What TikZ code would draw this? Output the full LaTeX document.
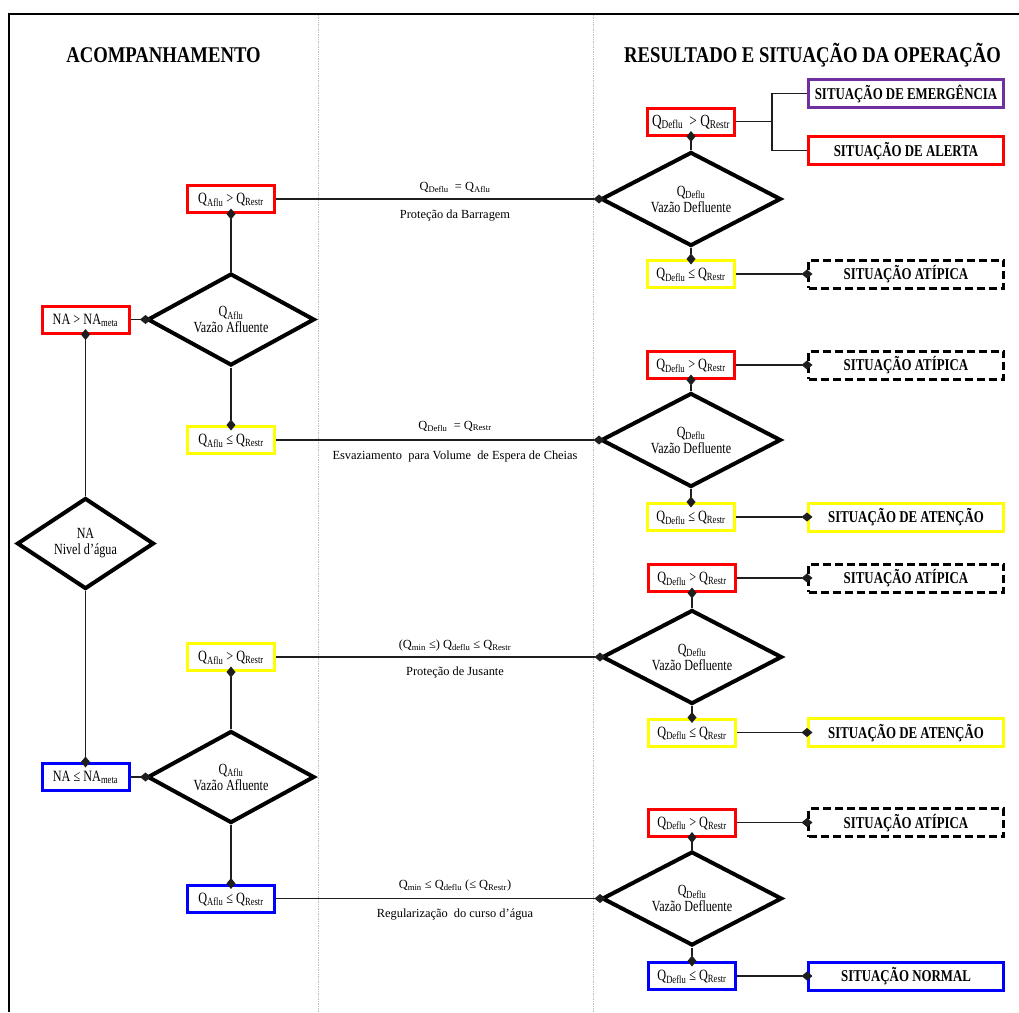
\documentclass[tikz,border=0pt]{standalone}
\usepackage{fontspec}
\setmainfont{Liberation Serif}
\newfontfamily\cf[FakeStretch=0.78]{Liberation Serif}
\newfontfamily\hf[FakeStretch=0.83]{Liberation Serif}
\usetikzlibrary{shapes.geometric,arrows.meta}
\definecolor{cred}{RGB}{255,0,0}
\definecolor{cyel}{RGB}{255,255,0}
\definecolor{cblu}{RGB}{0,0,255}
\definecolor{cpur}{RGB}{112,48,160}
\definecolor{cline}{RGB}{30,30,30}
\begin{document}
\begin{tikzpicture}[x=1pt,y=-1pt,
 qbox/.style={draw, line width=3pt, minimum width=87pt, minimum height=27pt, inner sep=0pt, text height=10pt, text depth=1pt, font=\cf\fontsize{15.7}{17}\selectfont},
 sbox/.style={draw, line width=3pt, minimum width=195pt, minimum height=28pt, inner sep=0pt, text height=11pt, text depth=0pt, font=\cf\bfseries\fontsize{16.5}{18}\selectfont},
 atip/.style={sbox, draw=black, dash pattern=on 8pt off 4pt},
 ldia/.style={diamond, aspect=2, draw, line width=4pt, inner sep=0pt, minimum width=167pt, minimum height=92pt, align=center, font=\cf\fontsize{15.5}{16}\selectfont},
 rdia/.style={ldia, minimum width=180pt, minimum height=94pt},
 nadia/.style={ldia, minimum width=137pt, minimum height=91pt},
 conn/.style={draw=cline, line width=1.2pt},
 mk/.style={-{Diamond[length=11pt,width=9pt]}, shorten >=-5.5pt},
 mks/.style={{Diamond[length=11pt,width=9pt]}-, shorten <=-5.5pt},
 lbl/.style={font=\fontsize{12.4}{14}\selectfont, inner sep=0pt},
 hdr/.style={font=\hf\bfseries\fontsize{22.5}{24}\selectfont, anchor=base, inner sep=0pt}
]
\useasboundingbox (0,0) rectangle (1019,1012);
% frame and column separators
\draw[gray!50, line width=0.7pt, densely dotted] (318,15) -- (318,1012);
\draw[gray!50, line width=0.7pt, densely dotted] (593,15) -- (593,1012);
\draw[line width=2.5pt] (9,1012) -- (9,14) -- (1019,14);

% headers
\node[hdr] (h1) at (163.5,62) {ACOMPANHAMENTO};
\node[hdr] (h2) at (812.5,62) {RESULTADO E SITUAÇÃO DA OPERAÇÃO};

% left column
\node[qbox, draw=cred] (na1) at (85.5,319.5) {NA > NA\textsubscript{meta}};
\node[nadia] (nad) at (85.5,543.5) {NA\\Nivel d’água};
\node[qbox, draw=cblu] (na2) at (85.5,777) {NA ≤ NA\textsubscript{meta}};

% middle column
\node[qbox, draw=cred] (qa1) at (231,199) {Q\textsubscript{Aflu} > Q\textsubscript{Restr}};
\node[ldia] (qad1) at (231,319.5) {Q\textsubscript{Aflu}\\Vazão Afluente};
\node[qbox, draw=cyel] (qa2) at (231,440) {Q\textsubscript{Aflu} ≤ Q\textsubscript{Restr}};
\node[qbox, draw=cyel] (qa3) at (231,657) {Q\textsubscript{Aflu} > Q\textsubscript{Restr}};
\node[ldia] (qad2) at (231,777) {Q\textsubscript{Aflu}\\Vazão Afluente};
\node[qbox, draw=cblu] (qa4) at (231,898.5) {Q\textsubscript{Aflu} ≤ Q\textsubscript{Restr}};

% right column - group 1
\node[qbox, draw=cred, font=\cf\fontsize{17}{18}\selectfont] (rg1) at (691,121.5) {Q\textsubscript{Deflu} \,> Q\textsubscript{Restr}};
\node[rdia] (rd1) at (691,199) {Q\textsubscript{Deflu}\\Vazão Defluente};
\node[qbox, draw=cyel] (ry1) at (691,274) {Q\textsubscript{Deflu} ≤ Q\textsubscript{Restr}};
\node[sbox, draw=cpur] (emerg) at (906,93.5) {SITUAÇÃO DE EMERGÊNCIA};
\node[sbox, draw=cred] (alert) at (906,150.5) {SITUAÇÃO DE ALERTA};
\node[atip] (at1) at (906,274) {SITUAÇÃO ATÍPICA};

% group 2
\node[qbox, draw=cred] (rg2) at (691,365) {Q\textsubscript{Deflu} > Q\textsubscript{Restr}};
\node[rdia] (rd2) at (691,440) {Q\textsubscript{Deflu}\\Vazão Defluente};
\node[qbox, draw=cyel] (ry2) at (691,517) {Q\textsubscript{Deflu} ≤ Q\textsubscript{Restr}};
\node[atip] (at2) at (906,365) {SITUAÇÃO ATÍPICA};
\node[sbox, draw=cyel] (aten2) at (906,517) {SITUAÇÃO DE ATENÇÃO};

% group 3
\node[qbox, draw=cred] (rg3) at (692,578) {Q\textsubscript{Deflu} > Q\textsubscript{Restr}};
\node[rdia] (rd3) at (692,657) {Q\textsubscript{Deflu}\\Vazão Defluente};
\node[qbox, draw=cyel] (ry3) at (692,732.5) {Q\textsubscript{Deflu} ≤ Q\textsubscript{Restr}};
\node[atip] (at3) at (906,578) {SITUAÇÃO ATÍPICA};
\node[sbox, draw=cyel] (aten3) at (906,732.5) {SITUAÇÃO DE ATENÇÃO};

% group 4
\node[qbox, draw=cred] (rg4) at (692,822.5) {Q\textsubscript{Deflu} > Q\textsubscript{Restr}};
\node[rdia] (rd4) at (692,898.5) {Q\textsubscript{Deflu}\\Vazão Defluente};
\node[qbox, draw=cblu] (rb4) at (692,976) {Q\textsubscript{Deflu} ≤ Q\textsubscript{Restr}};
\node[atip] (at4) at (906,822.5) {SITUAÇÃO ATÍPICA};
\node[sbox, draw=cblu] (norm) at (906,976) {SITUAÇÃO NORMAL};

% line labels
\node[lbl] (l1a) at (455,187) {Q\textsubscript{Deflu}\ \ = Q\textsubscript{Aflu}};
\node[lbl] (l1b) at (455,216) {Proteção da Barragem};
\node[lbl] (l2a) at (455,426) {Q\textsubscript{Deflu}\ \ = Q\textsubscript{Restr}};
\node[lbl] (l2b) at (455,457) {Esvaziamento\ \ para Volume\ \ de Espera de Cheias};
\node[lbl] (l3a) at (455,646) {(Q\textsubscript{min} ≤) Q\textsubscript{deflu} ≤ Q\textsubscript{Restr}};
\node[lbl] (l3b) at (455,673) {Proteção de Jusante};
\node[lbl] (l4a) at (455,886) {Q\textsubscript{min} ≤ Q\textsubscript{deflu} (≤ Q\textsubscript{Restr})};
\node[lbl] (l4b) at (455,915) {Regularização\ \ do curso d’água};

% connectors - left
\draw[conn,mk] (na1.east) -- (qad1.west);
\draw[conn,mks] (na1.south) -- (nad.north);
\draw[conn,mk] (nad.south) -- (na2.north);
\draw[conn,mk] (na2.east) -- (qad2.west);
\draw[conn,mks] (qa1.south) -- (qad1.north);
\draw[conn,mk] (qad1.south) -- (qa2.north);
\draw[conn,mks] (qa3.south) -- (qad2.north);
\draw[conn,mk] (qad2.south) -- (qa4.north);

% connectors - middle to right
\draw[conn,mk] (qa1.east) -- (rd1.west);
\draw[conn,mk] (qa2.east) -- (rd2.west);
\draw[conn,mk] (qa3.east) -- (rd3.west);
\draw[conn,mk] (qa4.east) -- (rd4.west);

% connectors - right groups
\draw[conn,mks] (rg1.south) -- (rd1.north);
\draw[conn,mk] (rd1.south) -- (ry1.north);
\coordinate (br) at (772,121.5);
\draw[conn] (rg1.east) -- (br);
\draw[conn] (emerg.west) -| (br) |- (alert.west);
\draw[conn,mk] (ry1.east) -- (at1.west);

\draw[conn,mks] (rg2.south) -- (rd2.north);
\draw[conn,mk] (rd2.south) -- (ry2.north);
\draw[conn,mk] (rg2.east) -- (at2.west);
\draw[conn,mk] (ry2.east) -- (aten2.west);

\draw[conn,mks] (rg3.south) -- (rd3.north);
\draw[conn,mk] (rd3.south) -- (ry3.north);
\draw[conn,mk] (rg3.east) -- (at3.west);
\draw[conn,mk] (ry3.east) -- (aten3.west);

\draw[conn,mks] (rg4.south) -- (rd4.north);
\draw[conn,mk] (rd4.south) -- (rb4.north);
\draw[conn,mk] (rg4.east) -- (at4.west);
\draw[conn,mk] (rb4.east) -- (norm.west);
\end{tikzpicture}
\end{document}
